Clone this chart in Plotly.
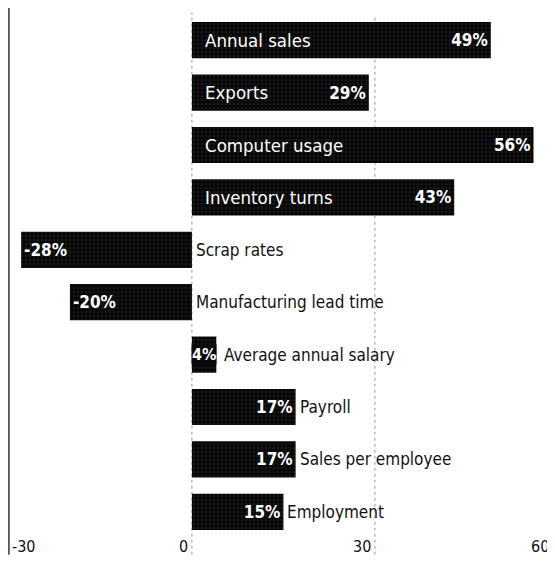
import plotly.graph_objects as go

categories = ["Annual sales", "Exports", "Computer usage", "Inventory turns",
              "Scrap rates", "Manufacturing lead time", "Average annual salary",
              "Payroll", "Sales per employee", "Employment"]
values = [49, 29, 56, 43, -28, -20, 4, 17, 17, 15]
tick_vals = [-30, 0, 30, 60]
tick_labels = ["-30", "0", "30", "60"]

FONT = "DejaVu Sans Condensed, Liberation Sans Narrow, sans-serif"
BAR = "#080808"

small = [0 < v < 8 for v in values]

fig = go.Figure()
fig.add_trace(go.Bar(
    y=categories, x=values, orientation="h",
    marker=dict(color=BAR, line=dict(width=0),
                pattern=dict(shape=".", fgcolor="#4a4a4a", bgcolor=BAR,
                             size=4, solidity=0.15)),
    text=["" if s else f"{v}%" for v, s in zip(values, small)],
    textposition="inside", insidetextanchor="end",
    textangle=0, constraintext="none",
    textfont=dict(family=FONT, size=17, color="white", weight="bold"),
    cliponaxis=False,
    hoverinfo="skip",
))

annotations = []
for c, v, s in zip(categories, values, small):
    if s:
        annotations.append(dict(x=0, y=c, xref="x", yref="y", text=f"<b>{v}%</b>",
                                showarrow=False, xanchor="left", xshift=-1,
                                bgcolor=BAR, borderpad=0,
                                font=dict(family=FONT, size=16, color="white")))
    if v >= 25:
        annotations.append(dict(x=0, y=c, xref="x", yref="y", text=c,
                                showarrow=False, xanchor="left", xshift=11,
                                font=dict(family=FONT, size=18.5, color="white")))
    else:
        annotations.append(dict(x=max(v, 0), y=c, xref="x", yref="y", text=c,
                                showarrow=False, xanchor="left",
                                xshift=(6 if s else 2),
                                font=dict(family=FONT, size=17, color="#111")))

for tv, tl in zip(tick_vals, tick_labels):
    if tv == -30:
        xv, anchor, shift = tv, "left", 1
    elif tv == 60:
        xv, anchor, shift = 59.5, "right", -4
    else:
        xv, anchor, shift = tv, "right", -2
    annotations.append(dict(x=xv, y=0, xref="x", yref="paper", text=tl,
                            showarrow=False, yanchor="top",
                            xanchor=anchor, xshift=shift, yshift=3,
                            font=dict(family=FONT, size=16, color="#111")))

shapes = [
    dict(type="line", xref="x", yref="paper", x0=-30, x1=-30, y0=-0.032, y1=1.02,
         line=dict(color="#333", width=1.5)),
    dict(type="line", xref="x", yref="paper", x0=0, x1=0, y0=-0.032, y1=1.003,
         line=dict(color="#999", width=1, dash="dot"), layer="below"),
    dict(type="line", xref="x", yref="paper", x0=30, x1=30, y0=-0.032, y1=0.997,
         line=dict(color="#999", width=1, dash="dot"), layer="below"),
]

fig.update_layout(
    width=547, height=555,
    margin=dict(l=0, r=0, t=6, b=25),
    paper_bgcolor="white", plot_bgcolor="white",
    showlegend=False,
    bargap=0.31,
    xaxis=dict(range=[-30.15, 59.52], showgrid=False, zeroline=False,
               showticklabels=False, ticks="", showline=False, fixedrange=True),
    yaxis=dict(autorange="reversed", showgrid=False, zeroline=False,
               showticklabels=False, ticks="", showline=False, fixedrange=True),
    annotations=annotations,
    shapes=shapes,
    uniformtext=dict(mode=False),
)

fig.write_html("out.html", config={"displayModeBar": False})
